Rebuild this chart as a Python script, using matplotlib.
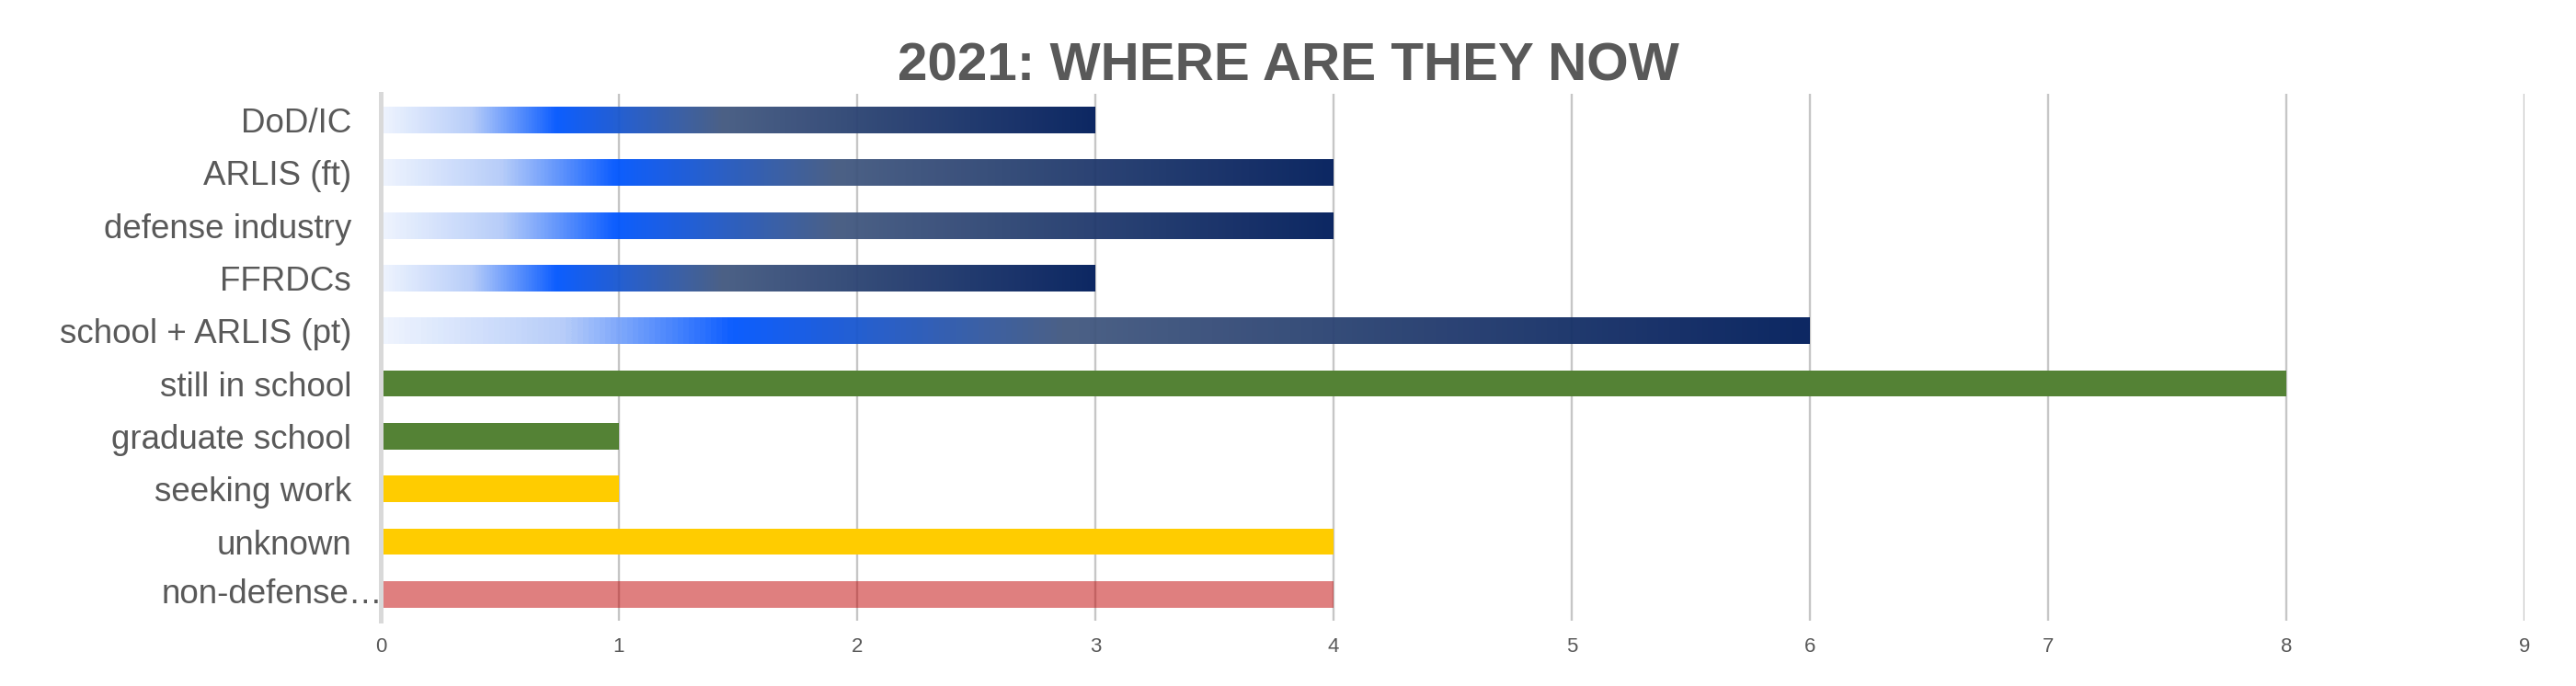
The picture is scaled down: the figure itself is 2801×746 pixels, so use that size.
import numpy as np
import matplotlib
matplotlib.use('Agg')
import matplotlib.pyplot as plt
from matplotlib.colors import LinearSegmentedColormap

categories = ['DoD/IC', 'ARLIS (ft)', 'defense industry', 'FFRDCs',
              'school + ARLIS (pt)', 'still in school', 'graduate school',
              'seeking work', 'unknown', 'non-defense…']
counts = [3, 4, 4, 3, 6, 8, 1, 1, 4, 4]
groups = ['defense'] * 5 + ['school', 'school', 'none', 'none', 'other']
x_ticks = list(range(10))

group_colors = {'school': '#548235', 'none': '#ffcc00', 'other': '#c00000'}
blue_grad = LinearSegmentedColormap.from_list(
    'arlis', [(0.0, '#eef4fe'), (0.125, '#b4cbf9'), (0.245, '#0055ff'),
              (0.48, '#42587f'), (1.0, '#001c5b')])

plt.rcParams['font.family'] = ['Liberation Sans', 'DejaVu Sans']
text_grey = '#595959'


def main():
    fig, ax = plt.subplots(figsize=(28.01, 7.46), dpi=100)
    fig.subplots_adjust(left=0.1478, right=0.98, top=0.8633, bottom=0.0952)

    y = np.arange(len(categories))
    bar_h = 0.5
    grad = np.linspace(0, 1, 512).reshape(1, -1)

    for yi, v, g in zip(y, counts, groups):
        if g == 'defense':
            ax.imshow(grad, cmap=blue_grad, aspect='auto', alpha=0.95,
                      extent=[0, v, yi + bar_h / 2, yi - bar_h / 2],
                      interpolation='bilinear', zorder=2)
        elif g == 'other':
            ax.barh(yi, v, height=bar_h, color=group_colors[g], alpha=0.5,
                    zorder=2)
        else:
            ax.barh(yi, v, height=bar_h, color=group_colors[g], zorder=2)

    ax.set_xlim(0, 9)
    ax.set_ylim(len(categories) - 0.5, -0.5)

    ax.set_axisbelow(True)
    ax.set_xticks(x_ticks)
    ax.grid(axis='x', color='#c6c6c6', linewidth=1.7, zorder=0)

    for side in ['top', 'right', 'bottom']:
        ax.spines[side].set_visible(False)
    ax.spines['left'].set_color('#d9d9d9')
    ax.spines['left'].set_linewidth(3.6)
    ax.spines['left'].set_zorder(3)

    ax.set_yticks(y)
    ax.set_yticklabels(categories[:-1] + [''])
    ax.tick_params(axis='y', length=0, pad=23, labelsize=26.5,
                   labelcolor=text_grey)
    ax.tick_params(axis='x', length=0, pad=13, labelsize=16,
                   labelcolor=text_grey)
    # truncated label sits right against the axis
    ax.text(0.001, y[-1], categories[-1], transform=ax.get_yaxis_transform(),
            ha='right', va='center', fontsize=26.5, color=text_grey)

    fig.text(0.5, 1 - 87 / 746, '2021: WHERE ARE THEY NOW', ha='center',
             va='baseline', fontsize=42, fontweight='bold', color=text_grey)

    fig.savefig('out.png', dpi=100, facecolor='white')


if __name__ == '__main__':
    main()
